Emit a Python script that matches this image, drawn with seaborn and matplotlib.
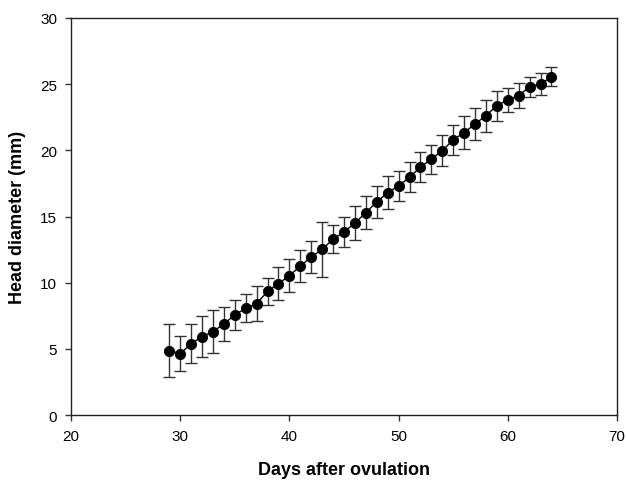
import matplotlib
matplotlib.use('Agg')
import matplotlib.pyplot as plt
import pandas as pd
import seaborn as sns

# Data
days = list(range(29, 65))
head_mean = [4.86, 4.63, 5.39, 5.92, 6.30, 6.88, 7.56, 8.06, 8.41, 9.35,
             9.93, 10.53, 11.25, 11.94, 12.52, 13.28, 13.83, 14.51, 15.29, 16.10,
             16.80, 17.31, 17.96, 18.74, 19.33, 19.98, 20.79, 21.34, 21.99, 22.62,
             23.38, 23.81, 24.14, 24.79, 25.02, 25.55]
head_err = [2.00, 1.33, 1.47, 1.55, 1.60, 1.27, 1.10, 1.06, 1.33, 1.03,
            1.24, 1.26, 1.20, 1.20, 2.10, 1.07, 1.16, 1.25, 1.23, 1.22,
            1.23, 1.16, 1.13, 1.12, 1.10, 1.20, 1.13, 1.22, 1.20, 1.20,
            1.13, 0.90, 0.97, 0.78, 0.85, 0.72]

df = pd.DataFrame({'day': days, 'diameter': head_mean, 'err': head_err})

sns.set_style('white')
plt.rcParams['font.family'] = ['Liberation Sans', 'DejaVu Sans']
plt.rcParams['text.color'] = 'black'
plt.rcParams['axes.labelcolor'] = 'black'
plt.rcParams['xtick.color'] = 'black'
plt.rcParams['ytick.color'] = 'black'

fig = plt.figure(figsize=(6.26, 4.81), dpi=100)
ax = fig.add_axes([0.1134, 0.1351, 0.8722, 0.8254])

# error bars first, then the line with markers on top
ax.errorbar(df['day'], df['diameter'], yerr=df['err'], fmt='none',
            ecolor='#333333', elinewidth=1.0, capsize=4, capthick=1.0, zorder=2)
sns.lineplot(data=df, x='day', y='diameter', ax=ax, color='black', linewidth=1.0,
             marker='o', markersize=7.4, markeredgewidth=0.6, markeredgecolor='black',
             markerfacecolor='black', zorder=3)

ax.set_xlim(20, 70)
ax.set_ylim(0, 30)
ax.set_xticks(range(20, 71, 10))
ax.set_yticks(range(0, 31, 5))

for s in ax.spines.values():
    s.set_color('#222222')
    s.set_linewidth(1.0)

ax.tick_params(axis='both', which='both', direction='out', length=4, width=1.0,
               color='#333333', labelsize=11, bottom=True, left=True,
               top=False, right=False, pad=6)

ax.set_xlabel('Days after ovulation', fontsize=13, fontweight='bold', labelpad=13)
ax.set_ylabel('Head diameter (mm)', fontsize=13, fontweight='bold', labelpad=10)

fig.savefig('out.png', dpi=100)
